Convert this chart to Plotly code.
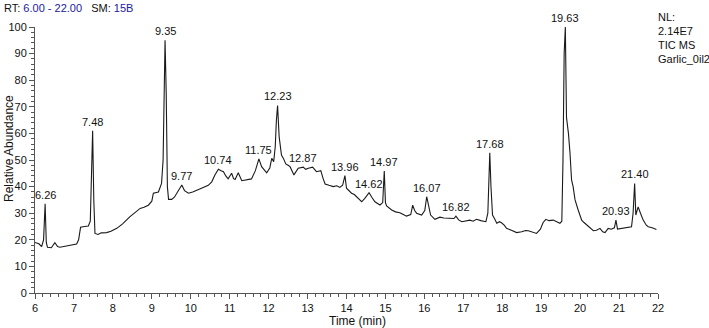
import plotly.graph_objects as go

# Retention time (min) and relative abundance (%)
time_min = [
    6.00, 6.10, 6.17, 6.22, 6.26, 6.29, 6.32, 6.42, 6.51, 6.58, 6.64, 6.78, 6.90, 7.07, 7.12, 7.17,
    7.27, 7.37, 7.42, 7.45, 7.48, 7.51, 7.54, 7.62, 7.70, 7.84, 7.95, 8.10, 8.25, 8.44, 8.55, 8.70,
    8.80, 8.91, 9.00, 9.04, 9.17, 9.25, 9.29, 9.32, 9.34, 9.37, 9.40, 9.43, 9.51, 9.58, 9.64, 9.72,
    9.77, 9.84, 9.94, 10.05, 10.15, 10.25, 10.32, 10.45, 10.54, 10.62, 10.71, 10.78, 10.84, 10.90,
    10.96, 11.05, 11.10, 11.14, 11.22, 11.31, 11.45, 11.56, 11.66, 11.75, 11.82, 11.95, 12.03, 12.08,
    12.13, 12.17, 12.20, 12.23, 12.27, 12.33, 12.38, 12.44, 12.50, 12.55, 12.65, 12.76, 12.89, 12.95,
    13.02, 13.13, 13.23, 13.34, 13.40, 13.45, 13.55, 13.66, 13.75, 13.83, 13.90, 13.96, 14.00, 14.13,
    14.20, 14.26, 14.33, 14.39, 14.47, 14.58, 14.65, 14.73, 14.86, 14.93, 14.97, 15.00, 15.03, 15.16,
    15.26, 15.37, 15.46, 15.54, 15.65, 15.70, 15.75, 15.80, 15.93, 16.01, 16.06, 16.11, 16.16, 16.27,
    16.40, 16.50, 16.66, 16.76, 16.81, 16.88, 16.96, 17.05, 17.17, 17.25, 17.34, 17.45, 17.58, 17.63,
    17.66, 17.68, 17.71, 17.75, 17.80, 17.86, 17.93, 17.98, 18.05, 18.11, 18.25, 18.37, 18.50, 18.60,
    18.67, 18.78, 18.88, 18.98, 19.05, 19.12, 19.20, 19.31, 19.40, 19.48, 19.53, 19.56, 19.59, 19.62,
    19.65, 19.70, 19.74, 19.78, 19.82, 19.87, 19.95, 20.04, 20.10, 20.17, 20.25, 20.34, 20.42, 20.51,
    20.58, 20.64, 20.72, 20.80, 20.88, 20.92, 20.96, 21.05, 21.15, 21.25, 21.32, 21.36, 21.40, 21.43,
    21.46, 21.49, 21.55, 21.62, 21.70, 21.75, 21.85, 21.96,
]
abundance = [
    19.0, 18.5, 17.4, 20.0, 33.5, 19.0, 17.2, 17.0, 18.9, 17.5, 17.2, 17.6, 18.0, 18.4, 20.0, 24.7,
    25.0, 25.2, 27.0, 40.0, 61.0, 35.0, 22.4, 22.0, 22.6, 22.7, 23.2, 24.3, 26.0, 28.7, 30.0, 31.8,
    32.2, 33.0, 34.5, 37.5, 38.0, 41.2, 50.0, 85.0, 95.0, 75.0, 40.0, 35.2, 35.2, 36.0, 37.5, 39.0,
    40.6, 38.5, 37.5, 38.0, 38.7, 39.5, 39.7, 40.5, 41.8, 44.4, 46.5, 46.0, 45.6, 44.0,
    42.9, 45.0, 43.0, 42.7, 45.2, 42.2, 42.5, 42.9, 46.0, 50.4, 47.5, 45.2, 47.0, 50.6,
    49.4, 55.0, 65.0, 70.5, 58.8, 51.9, 50.6, 48.5, 48.0, 47.5, 44.4, 46.9, 47.3, 46.5,
    46.9, 47.3, 45.6, 46.0, 43.0, 41.0, 40.5, 40.0, 40.3, 39.7, 40.5, 44.1, 39.4, 37.5,
    37.0, 36.2, 35.0, 34.3, 35.6, 37.7, 36.0, 34.3, 33.1, 34.0, 45.9, 34.0, 32.7, 31.2,
    30.5, 30.2, 29.5, 28.9, 29.5, 33.0, 31.0, 30.0, 29.3, 31.0, 36.2, 32.0, 29.3, 27.7,
    28.5, 28.2, 28.1, 28.0, 28.9, 27.5, 26.8, 27.0, 27.4, 27.0, 27.7, 27.2, 26.8, 30.0,
    45.0, 52.7, 40.0, 29.3, 28.0, 26.2, 26.8, 26.4, 25.5, 24.3, 23.5, 22.7, 23.0, 23.5,
    23.4, 22.8, 22.4, 24.0, 26.5, 27.7, 27.2, 27.4, 26.8, 26.2, 27.0, 50.0, 90.0, 100.0,
    66.0, 60.0, 52.6, 42.5, 40.0, 35.0, 31.2, 27.4, 26.5, 25.6, 24.5, 23.4, 23.6, 24.3,
    23.0, 22.7, 24.3, 24.0, 24.5, 27.4, 24.0, 24.2, 24.3, 24.6, 24.9, 30.0, 41.2, 29.3,
    31.0, 32.4, 30.0, 27.4, 25.5, 24.9, 24.5, 23.9,
]

# Peak labels
peak_labels = ["6.26", "7.48", "9.35", "9.77", "10.74", "11.75", "12.23", "12.87", "13.96",
               "14.62", "14.97", "16.07", "16.82", "17.68", "19.63", "20.93", "21.40"]
label_time = [6.26, 7.48, 9.34, 9.77, 10.71, 11.75, 12.23, 12.89, 13.96,
              14.58, 14.97, 16.06, 16.81, 17.68, 19.62, 20.92, 21.40]
label_value = [33.5, 61.0, 95.0, 40.6, 46.5, 50.4, 70.5, 47.3, 44.1,
               37.7, 45.9, 36.2, 28.9, 52.7, 100.0, 27.4, 41.2]

# Header / info texts
info_lines = ["NL:", "2.14E7", "TIC MS", "Garlic_0il2"]

x_ticks = list(range(6, 23))
y_ticks = list(range(0, 101, 10))

FONT = "Liberation Sans, Arial, sans-serif"
W, H = 709, 328
L, R, T, B = 35, 51, 27, 35
PW, PH = W - L - R, H - T - B


def px(xp):
    return (xp - L) / PW


def py(yp):
    return (H - B - yp) / PH


fig = go.Figure()
fig.add_trace(go.Scatter(
    x=time_min, y=abundance, mode="lines",
    line=dict(color="#1a1a1a", width=1.1), hoverinfo="skip", showlegend=False,
))

annotations = []
for lab, tx, vy in zip(peak_labels, label_time, label_value):
    annotations.append(dict(
        x=tx, y=vy, xref="x", yref="y", text=lab, showarrow=False,
        yanchor="bottom", xanchor="center", yshift=1,
        font=dict(family=FONT, size=11, color="#111111"),
    ))

annotations.append(dict(
    x=px(2), y=py(8), xref="paper", yref="paper", xanchor="left", yanchor="middle",
    showarrow=False,
    text=("RT: <span style='color:#2020a0'>6.00 - 22.00</span>"
          "&nbsp;&nbsp;&nbsp;SM: <span style='color:#2020a0'>15B</span>"),
    font=dict(family=FONT, size=11, color="#111111"),
))
for txt, yy in zip(info_lines, [17, 31, 45, 59]):
    annotations.append(dict(
        x=px(656), y=py(yy), xref="paper", yref="paper", xanchor="left", yanchor="middle",
        showarrow=False, text=txt, font=dict(family=FONT, size=11, color="#111111"),
    ))
annotations.append(dict(
    x=px(357), y=py(321), xref="paper", yref="paper", xanchor="center", yanchor="middle",
    showarrow=False, text="Time (min)", font=dict(family=FONT, size=12, color="#111111"),
))
annotations.append(dict(
    x=px(9), y=py(149), xref="paper", yref="paper", xanchor="center", yanchor="middle",
    showarrow=False, text="Relative Abundance", textangle=-90,
    font=dict(family=FONT, size=12, color="#111111"),
))

fig.update_layout(
    width=W, height=H,
    margin=dict(l=L, r=R, t=T, b=B, pad=0, autoexpand=False),
    paper_bgcolor="white", plot_bgcolor="white",
    font=dict(family=FONT, size=11, color="#111111"),
    annotations=annotations,
    xaxis=dict(
        range=[6, 22], tickvals=x_ticks, ticktext=[str(v) for v in x_ticks],
        showgrid=False, zeroline=False, showline=True, linecolor="#555555", linewidth=1,
        ticks="outside", ticklen=5, tickcolor="#555555", tickwidth=1, automargin=False,
        minor=dict(dtick=0.2, ticks="outside", ticklen=3, tickcolor="#555555", showgrid=False),
        tickfont=dict(family=FONT, size=11, color="#111111"),
    ),
    yaxis=dict(
        range=[0, 100], tickvals=y_ticks, ticktext=[str(v) for v in y_ticks],
        showgrid=False, zeroline=False, showline=True, linecolor="#555555", linewidth=1,
        ticks="outside", ticklen=5, tickcolor="#555555", tickwidth=1, automargin=False,
        minor=dict(dtick=2, ticks="outside", ticklen=3, tickcolor="#555555", showgrid=False),
        tickfont=dict(family=FONT, size=11, color="#111111"),
    ),
)

# Remove the browser's default 8px page margin so the figure fills the window exactly
fig.write_html("out.html", config={"displayModeBar": False},
               post_script="document.body.style.margin='0';")
